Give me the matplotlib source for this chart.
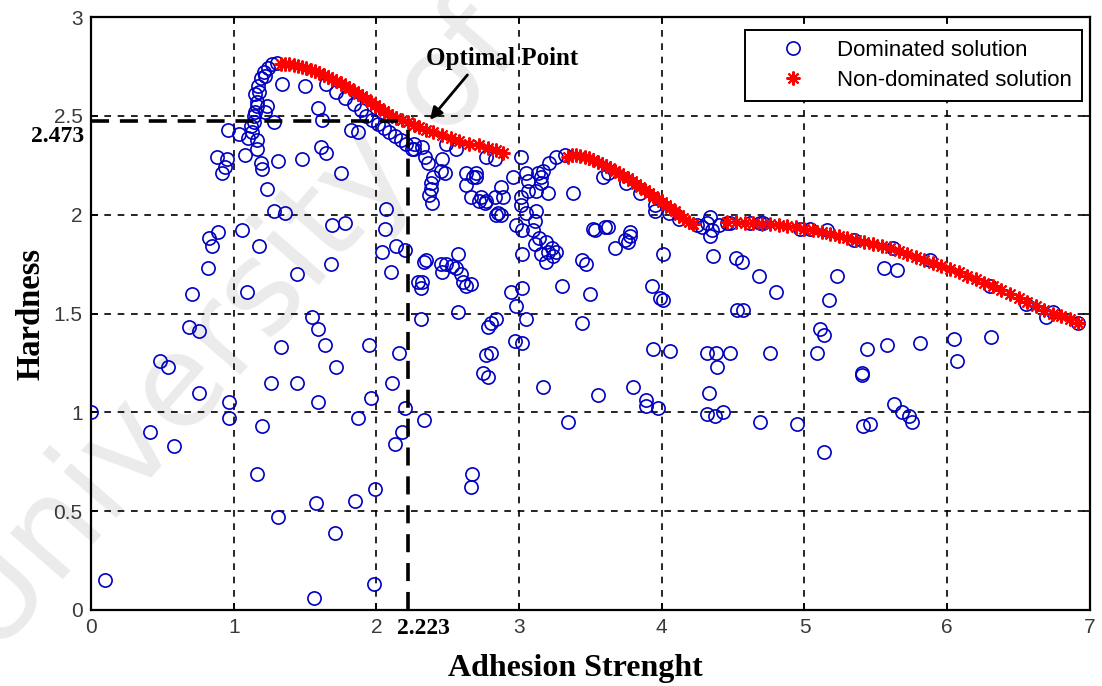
import numpy as np
import matplotlib.pyplot as plt

# dominated solutions (adhesion strength, hardness)
dom_x = [0.00, 0.10, 0.41, 0.48, 0.54, 0.58, 0.71, 0.69, 0.76, 0.76, 0.82, 0.83, 0.89, 0.85,
         0.97, 0.97, 0.96, 0.88, 0.95, 0.92, 0.94,
         1.04, 1.10, 1.16, 1.08, 1.16, 1.20, 1.19, 1.31, 1.48, 1.61, 1.65, 1.75, 1.23, 1.28,
         1.36, 1.69, 1.78, 1.06, 1.18, 1.09, 1.44, 1.68, 1.34, 1.50, 1.23, 1.22, 1.28, 1.59,
         1.62, 1.82, 1.87,
         1.13, 1.14, 1.15, 1.16, 1.15, 1.17, 1.19, 1.21, 1.24, 1.27, 1.30, 1.22, 1.18, 1.16,
         1.12, 1.14,
         1.65, 1.72, 1.78, 1.84, 1.89, 1.93, 1.97, 2.01, 2.05, 2.09, 2.13, 2.17, 2.21, 2.25,
         1.55, 1.59, 1.64, 1.33, 1.72, 1.26, 1.44, 1.59, 1.95, 1.87, 1.20, 1.16, 1.58, 1.85,
         1.99, 1.31, 1.71, 1.56, 1.98, 1.96,
         2.07, 2.06, 2.04, 2.14, 2.20, 2.10, 2.16, 2.11, 2.20, 2.33, 2.18, 2.13, 2.67, 2.66,
         2.31, 2.29, 2.33, 2.57, 2.49, 2.56, 2.46, 2.63, 2.57, 2.78, 2.77, 2.75, 2.78, 2.61,
         2.66,
         2.26, 2.36, 2.40, 2.38, 2.39, 2.38, 2.34, 2.46, 2.49, 2.56, 2.45, 2.48, 2.32, 2.26,
         2.37,
         2.63, 2.70, 2.66, 2.72, 2.77, 2.83, 2.85, 2.87, 2.77, 2.83, 2.70, 2.63, 2.68, 2.73,
         2.76, 2.84, 2.53, 2.59, 2.45, 2.35, 2.32, 2.31, 2.80, 2.84, 2.94, 2.97, 2.80, 2.89,
         2.87, 2.96, 2.98, 2.98,
         3.01, 3.05, 3.15, 3.17, 3.21, 3.26, 3.32, 3.15, 3.12, 3.20, 3.38, 3.59, 3.01, 3.05,
         3.12, 3.11, 3.02, 3.10, 3.14, 3.11, 3.19, 3.15, 3.20, 3.24, 3.19, 3.26, 3.23, 3.02,
         3.52, 3.60, 3.67, 3.76, 3.78, 3.44, 3.47, 3.95, 3.30, 3.50, 3.02, 3.05, 3.02, 3.44,
         3.93, 3.99, 4.01, 3.94, 4.06, 3.17, 3.34, 3.55, 3.80, 3.89, 3.89, 3.97, 4.01, 3.53,
         3.62, 3.78, 3.74, 3.06, 3.06, 3.13, 3.01,
         3.62, 3.75, 3.85, 3.95, 4.05, 4.12,
         4.25, 4.28, 4.32, 4.35, 4.34, 4.34, 4.36, 4.52, 4.56, 4.68, 4.80, 4.53, 4.57, 4.32,
         4.38, 4.48, 4.39, 4.76, 4.33, 4.32, 4.37, 4.43, 4.69, 4.95, 5.14, 5.23, 5.17, 5.11,
         5.14, 5.09, 5.44, 5.40, 5.40, 5.58, 5.81, 5.41, 5.46, 5.63, 5.68, 5.73, 5.75, 6.05,
         6.07, 6.31, 5.56, 5.65, 6.69, 6.74, 6.92,
         4.46, 4.62, 4.69, 4.97, 5.04, 5.16, 4.71, 4.48, 5.35, 5.62, 5.88, 6.30, 6.55, 4.40]
dom_y = [1.00, 0.15, 0.90, 1.26, 1.23, 0.83, 1.60, 1.43, 1.41, 1.10, 1.73, 1.88, 1.91, 1.84,
         1.05, 0.97, 2.43, 2.29, 2.28, 2.21, 2.24,
         2.41, 2.39, 2.38, 2.30, 2.33, 2.23, 2.26, 2.27, 2.28, 2.34, 2.31, 2.21, 2.13, 2.02,
         2.01, 1.95, 1.96, 1.92, 1.84, 1.61, 1.70, 1.75, 2.66, 2.65, 2.55, 2.52, 2.47, 2.54,
         2.48, 2.43, 2.42,
         2.42, 2.47, 2.52, 2.57, 2.61, 2.65, 2.69, 2.72, 2.74, 2.76, 2.765, 2.70, 2.62, 2.55,
         2.45, 2.50,
         2.66, 2.62, 2.59, 2.56, 2.53, 2.50, 2.48, 2.46, 2.44, 2.42, 2.40, 2.38, 2.36, 2.33,
         1.48, 1.42, 1.34, 1.33, 1.23, 1.15, 1.15, 1.05, 1.34, 0.97, 0.93, 0.69, 0.54, 0.55,
         0.61, 0.47, 0.39, 0.06, 0.13, 1.07,
         2.03, 1.93, 1.81, 1.84, 1.82, 1.71, 1.30, 1.15, 1.02, 0.96, 0.90, 0.84, 0.69, 0.62,
         1.47, 1.66, 1.76, 1.80, 1.75, 1.73, 1.71, 1.64, 1.51, 1.43, 1.29, 1.20, 1.18, 1.66,
         1.65,
         2.36, 2.26, 2.19, 2.13, 2.06, 2.16, 2.29, 2.28, 2.36, 2.33, 2.22, 2.21, 2.34, 2.33,
         2.10,
         2.15, 2.19, 2.09, 2.07, 2.07, 2.09, 2.01, 2.14, 2.29, 2.28, 2.21, 2.21, 2.19, 2.09,
         2.06, 2.00, 1.74, 1.70, 1.75, 1.77, 1.66, 1.63, 1.45, 1.47, 1.61, 1.36, 1.30, 2.09,
         2.00, 2.19, 1.95, 1.54,
         2.29, 2.21, 2.19, 2.22, 2.26, 2.29, 2.30, 2.16, 2.12, 2.11, 2.11, 2.19, 2.05, 2.01,
         2.02, 1.97, 1.92, 1.92, 1.88, 1.85, 1.86, 1.80, 1.81, 1.79, 1.76, 1.81, 1.83, 1.80,
         1.93, 1.94, 1.83, 1.86, 1.89, 1.77, 1.75, 2.02, 1.64, 1.60, 1.63, 1.47, 1.35, 1.45,
         1.64, 1.58, 1.57, 1.32, 1.31, 1.13, 0.95, 1.09, 1.13, 1.06, 1.03, 1.02, 1.80, 1.92,
         1.94, 1.91, 1.87, 2.17, 2.12, 2.21, 2.09,
         2.21, 2.16, 2.11, 2.05, 2.01, 1.98,
         1.95, 1.94, 1.96, 1.92, 1.89, 1.99, 1.79, 1.78, 1.76, 1.69, 1.61, 1.52, 1.52, 1.30,
         1.30, 1.30, 1.23, 1.30, 1.10, 0.99, 0.98, 1.00, 0.95, 0.94, 0.80, 1.69, 1.57, 1.42,
         1.39, 1.30, 1.32, 1.20, 1.19, 1.34, 1.35, 0.93, 0.94, 1.04, 1.00, 0.98, 0.95, 1.37,
         1.26, 1.38, 1.73, 1.72, 1.48, 1.51, 1.45,
         1.96, 1.96, 1.96, 1.93, 1.93, 1.92, 1.96, 1.96, 1.87, 1.83, 1.77, 1.64, 1.55, 1.95]

# non-dominated (Pareto) solutions
nd_x = [1.33, 1.36, 1.39, 1.42, 1.45, 1.48, 1.51, 1.54, 1.57, 1.60, 1.63, 1.66, 1.69, 1.72,
        1.75, 1.78, 1.81, 1.84, 1.87, 1.90, 1.93, 1.96, 1.99, 2.02, 2.05, 2.08, 2.11, 2.14,
        2.18, 2.22, 2.26, 2.30, 2.35, 2.40, 2.46, 2.52, 2.58, 2.65, 2.72, 2.78, 2.84, 2.89,
        3.34, 3.37, 3.40, 3.43, 3.46, 3.49, 3.52, 3.55, 3.58, 3.61, 3.64, 3.67, 3.70, 3.73,
        3.76, 3.79, 3.82, 3.85, 3.88, 3.91, 3.94, 3.97, 4.00, 4.03, 4.06, 4.09, 4.12, 4.15,
        4.19, 4.22,
        4.46, 4.52, 4.58, 4.64, 4.70, 4.76, 4.82, 4.88, 4.94, 5.00, 5.06, 5.12, 5.18, 5.24,
        5.30, 5.36, 5.42, 5.48, 5.54, 5.60, 5.66, 5.72, 5.78, 5.84, 5.90, 5.96, 6.02, 6.08,
        6.14, 6.20, 6.26, 6.32, 6.38, 6.44, 6.50, 6.56, 6.62, 6.68, 6.74, 6.80, 6.86, 6.92]
nd_y = [2.76, 2.76, 2.76, 2.755, 2.75, 2.745, 2.74, 2.73, 2.725, 2.715, 2.705, 2.695, 2.685,
        2.675, 2.665, 2.65, 2.64, 2.625, 2.61, 2.60, 2.585, 2.57, 2.555, 2.54, 2.525, 2.51,
        2.50, 2.49, 2.48, 2.47, 2.455, 2.445, 2.43, 2.42, 2.405, 2.39, 2.375, 2.36, 2.35,
        2.335, 2.325, 2.31,
        2.29, 2.30, 2.30, 2.295, 2.29, 2.285, 2.275, 2.265, 2.255, 2.245, 2.235, 2.22, 2.21,
        2.195, 2.185, 2.17, 2.155, 2.14, 2.125, 2.11, 2.095, 2.08, 2.065, 2.05, 2.035, 2.02,
        2.00, 1.985, 1.965, 1.955,
        1.965, 1.965, 1.96, 1.96, 1.955, 1.955, 1.95, 1.945, 1.94, 1.93, 1.92, 1.91, 1.90,
        1.89, 1.88, 1.87, 1.86, 1.85, 1.84, 1.83, 1.815, 1.80, 1.785, 1.77, 1.755, 1.74,
        1.725, 1.71, 1.69, 1.675, 1.655, 1.64, 1.62, 1.60, 1.58, 1.56, 1.54, 1.52, 1.50,
        1.485, 1.47, 1.45]

opt_x = 2.223
opt_y = 2.473

serif = 'Liberation Serif'
sans = 'Liberation Sans'

fig = plt.figure(figsize=(11.02, 6.86), dpi=100)
ax = fig.add_axes([0.0826, 0.1108, 0.9064, 0.8644])

# faint watermark across the plot
ax.text(-0.005, 0.04, 'University of', transform=fig.transFigure,
        rotation=49, rotation_mode='anchor', ha='left', va='baseline',
        fontsize=92, family='DejaVu Sans', color='#ebebeb', zorder=0, clip_on=False)

ax.plot(dom_x, dom_y, linestyle='none', marker='o', ms=9.5, mfc='none',
        mec='#0000c0', mew=1.2, label='Dominated solution', zorder=3)
ax.plot(nd_x, nd_y, linestyle='none', marker=(8, 2, 0), ms=10, color='red',
        mec='red', mew=1.5, label='Non-dominated solution', zorder=4)

# optimal point guides
ax.plot([0, opt_x], [opt_y, opt_y], color='k', lw=2.6, linestyle=(0, (5, 3)), zorder=5)
ax.plot([opt_x, opt_x], [0, opt_y], color='k', lw=2.6, linestyle=(0, (5, 3)), zorder=5)

ax.annotate('Optimal Point', xy=(2.375, 2.48), xytext=(2.88, 2.79),
            ha='center', va='center', fontsize=18, fontweight='bold', family=serif,
            arrowprops=dict(arrowstyle='-|>', color='k', lw=2, mutation_scale=18,
                            shrinkA=2, shrinkB=0, relpos=(0.3, 0.0)), zorder=6)

ax.set_xlim(0, 7)
ax.set_ylim(0, 3)
ax.set_xticks([0, 1, 2, 3, 4, 5, 6, 7])
ax.set_yticks([0, 0.5, 1, 1.5, 2, 2.5, 3])
ax.set_xticklabels(['0', '1', '2', '3', '4', '5', '6', '7'])
ax.set_yticklabels(['0', '0.5', '1', '1.5', '2', '2.5', '3'])
ax.tick_params(direction='in', top=True, right=True, length=5, width=1.2,
               labelsize=15, labelcolor='#3a3a3a', pad=6)
for lab in ax.get_xticklabels() + ax.get_yticklabels():
    lab.set_family(sans)

ax.grid(True, color='k', linestyle=(0, (4, 4)), linewidth=1.2)
ax.set_axisbelow(True)
for s in ax.spines.values():
    s.set_linewidth(1.6)

# values of the optimal point next to the axes
ax.annotate('2.473', xy=(0, opt_y), xytext=(-5, -11), textcoords='offset points',
            ha='right', va='center', fontsize=17, fontweight='bold', family=serif,
            annotation_clip=False)
ax.annotate('2.223', xy=(opt_x, 0), xytext=(11, -6), textcoords='offset points',
            ha='center', va='top', fontsize=17, fontweight='bold', family=serif,
            annotation_clip=False)

ax.set_xlabel('Adhesion Strenght', fontsize=23, fontweight='bold', family=serif)
ax.xaxis.set_label_coords(0.4845, -0.075)
ax.set_ylabel('Hardness', fontsize=23.5, fontweight='bold', family=serif, labelpad=5)

leg = ax.legend(loc='upper right', bbox_to_anchor=(0.992, 0.978), borderaxespad=0,
                frameon=True, fancybox=False, edgecolor='k', framealpha=1,
                prop={'family': sans, 'size': 16}, handletextpad=0.27,
                borderpad=0.45, labelspacing=0.4, handlelength=3.42)
leg.get_frame().set_linewidth(1.4)

fig.savefig('out.png', dpi=100)
